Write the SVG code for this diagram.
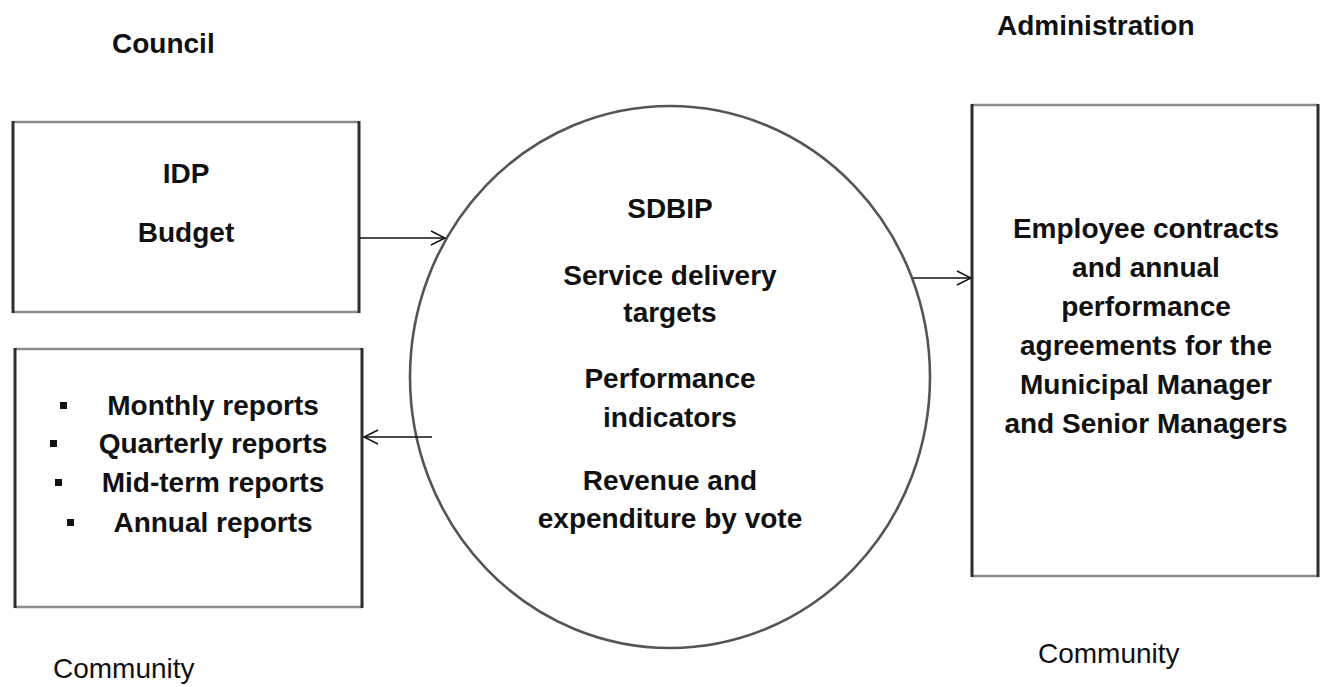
<svg xmlns="http://www.w3.org/2000/svg" width="1333" height="687" viewBox="0 0 1333 687">
<style>
  .bg { fill: #ffffff; }
  .side { stroke: #2e2e2e; stroke-width: 3; }
  .edge { stroke: #8c8c8c; stroke-width: 2.5; }
  .circ { fill: none; stroke: #555555; stroke-width: 2.6; }
  .t { font-family: "Liberation Sans", Arial, sans-serif; font-size: 28px; font-weight: bold; fill: #111; text-anchor: middle; }
  .h { font-family: "Liberation Sans", Arial, sans-serif; font-size: 28px; fill: #111; }
  .hb { font-weight: bold; }
  .conn { stroke: #111; stroke-width: 1.4; fill: none; marker-end: url(#arr); }
  .bullet { fill: #111; }
</style>
<defs>
  <marker id="arr" markerUnits="userSpaceOnUse" markerWidth="18" markerHeight="18" refX="15" refY="8" orient="auto">
    <path d="M1,1 L15,8 L1,15" fill="none" stroke="#111" stroke-width="1.4"/>
  </marker>
</defs>
<rect class="bg" x="0" y="0" width="1333" height="687"/>

<g id="label-council"><text class="h hb" x="112" y="53">Council</text></g>
<g id="label-administration"><text class="h hb" x="997" y="35">Administration</text></g>
<g id="label-community-left"><text class="h" x="53" y="678">Community</text></g>
<g id="label-community-right"><text class="h" x="1038" y="663">Community</text></g>

<g id="node-idp-budget">
  <line class="edge" x1="13" y1="122" x2="359" y2="122"/>
  <line class="edge" x1="13" y1="312" x2="359" y2="312"/>
  <line class="side" x1="13" y1="121" x2="13" y2="313"/>
  <line class="side" x1="359" y1="121" x2="359" y2="313"/>
  <text class="t" x="186" y="183">IDP</text>
  <text class="t" x="186" y="242">Budget</text>
</g>

<g id="node-reports">
  <line class="edge" x1="15" y1="349" x2="362" y2="349"/>
  <line class="edge" x1="15" y1="607" x2="362" y2="607"/>
  <line class="side" x1="15" y1="348" x2="15" y2="608"/>
  <line class="side" x1="362" y1="348" x2="362" y2="608"/>
  <rect class="bullet" x="60" y="402" width="7" height="7"/>
  <text class="t" x="213" y="415">Monthly reports</text>
  <rect class="bullet" x="50" y="440" width="7" height="7"/>
  <text class="t" x="213" y="453">Quarterly reports</text>
  <rect class="bullet" x="55" y="479" width="7" height="7"/>
  <text class="t" x="213" y="492">Mid-term reports</text>
  <rect class="bullet" x="67" y="519" width="7" height="7"/>
  <text class="t" x="213" y="532">Annual reports</text>
</g>

<g id="node-sdbip">
  <ellipse class="circ" cx="670" cy="377" rx="260" ry="271"/>
  <text class="t" x="670" y="218">SDBIP</text>
  <text class="t" x="670" y="285">Service delivery</text>
  <text class="t" x="670" y="322">targets</text>
  <text class="t" x="670" y="388">Performance</text>
  <text class="t" x="670" y="427">indicators</text>
  <text class="t" x="670" y="490">Revenue and</text>
  <text class="t" x="670" y="528">expenditure by vote</text>
</g>

<g id="node-contracts">
  <line class="edge" x1="972" y1="105" x2="1318" y2="105"/>
  <line class="edge" x1="972" y1="576" x2="1318" y2="576"/>
  <line class="side" x1="972" y1="104" x2="972" y2="577"/>
  <line class="side" x1="1318" y1="104" x2="1318" y2="577"/>
  <text class="t" x="1146" y="238">Employee contracts</text>
  <text class="t" x="1146" y="277">and annual</text>
  <text class="t" x="1146" y="316">performance</text>
  <text class="t" x="1146" y="355">agreements for the</text>
  <text class="t" x="1146" y="394">Municipal Manager</text>
  <text class="t" x="1146" y="433">and Senior Managers</text>
</g>

<g id="connectors">
  <line class="conn" x1="360" y1="238" x2="445" y2="238"/>
  <line class="conn" x1="432" y1="437" x2="364" y2="437"/>
  <line class="conn" x1="913" y1="278" x2="971" y2="278"/>
</g>
</svg>
